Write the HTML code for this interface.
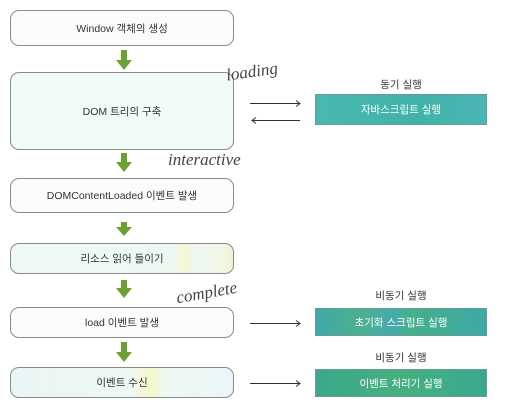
<!DOCTYPE html>
<html><head><meta charset="utf-8"><style>
body{margin:0;width:509px;height:411px;background:#fff;position:relative;overflow:hidden;font-family:"Liberation Sans","Noto Sans CJK KR",sans-serif;}
.b{position:absolute;left:10px;width:224px;border:1px solid #8a8a8a;border-radius:9px;display:flex;align-items:center;justify-content:center;font-size:10.5px;color:#333;box-sizing:border-box;}
.r{position:absolute;left:315px;width:172px;display:flex;align-items:center;justify-content:center;font-size:10.5px;color:#fff;border:1px solid #6a9a9a;box-sizing:border-box;}
.l{position:absolute;left:315px;width:172px;text-align:center;font-size:10.5px;color:#333;}
.h{position:absolute;font-family:"Liberation Serif",serif;font-style:italic;color:#444;font-size:17px;}
</style></head><body>
<div class="b" style="top:10px;height:36px;background:#fafcfb">Window 객체의 생성</div>
<div class="b" style="top:72px;height:78px;background:#f0faf7">DOM 트리의 구축</div>
<div class="b" style="top:178px;height:35px;background:#fbfcfc">DOMContentLoaded 이벤트 발생</div>
<div class="b" style="top:243px;height:31px;background:linear-gradient(90deg,#eef8f5 0%,#eef8f3 73%,#f4f8d0 78%,#eef8f3 83%,#f2f7e8 95%,#eef5d0 100%)">리소스 읽어 들이기</div>
<div class="b" style="top:307px;height:31px;background:#fcfcfc">load 이벤트 발생</div>
<div class="b" style="top:367px;height:31px;background:linear-gradient(90deg,#eaf6f6 0%,#eef8f2 55%,#f4f8c8 62%,#eef8f3 70%,#eaf6f8 100%)">이벤트 수신</div>
<svg width="509" height="411" style="position:absolute;left:0;top:0">
<g fill="#6aa132">
<rect x="121" y="50" width="6" height="11"/><polygon points="116,60 132,60 124,70"/>
<rect x="121" y="153" width="6" height="10"/><polygon points="116,162 132,162 124,172"/>
<rect x="121" y="222" width="6" height="6"/><polygon points="116,227 132,227 124,236"/>
<rect x="121" y="280" width="6" height="9"/><polygon points="116,288 132,288 124,298"/>
<rect x="121" y="342" width="6" height="11"/><polygon points="116,352 132,352 124,362"/>
</g>
<g stroke="#333" stroke-width="1" fill="none">
<path d="M250 103.5H300M296 100.5L300 103.5L296 106.5"/>
<path d="M252 120.5H300M256 117.5L252 120.5L256 123.5"/>
<path d="M250 323.5H300M296 320.5L300 323.5L296 326.5"/>
<path d="M250 383.5H300M296 380.5L300 383.5L296 386.5"/>
</g>
</svg>
<div class="l" style="top:77px">동기 실행</div>
<div class="r" style="top:94px;height:31px;background:linear-gradient(90deg,#49b8b0,#3fb3a8 60%,#4bb6b4)">자바스크립트 실행</div>
<div class="l" style="top:288px">비동기 실행</div>
<div class="r" style="top:308px;height:28px;background:linear-gradient(90deg,#3fa8a8 0%,#4cb090 25%,#46aab0 45%,#44b088 55%,#3fa8a8 100%)">초기화 스크립트 실행</div>
<div class="l" style="top:350px">비동기 실행</div>
<div class="r" style="top:369px;height:28px;background:linear-gradient(90deg,#3aa88a,#46b080 50%,#3aa890)">이벤트 처리기 실행</div>
<div class="h" style="left:226px;top:62px;transform:rotate(-8deg)">loading</div>
<div class="h" style="left:168px;top:150px">interactive</div>
<div class="h" style="left:176px;top:283px;transform:rotate(-10deg)">complete</div>
</body></html>
